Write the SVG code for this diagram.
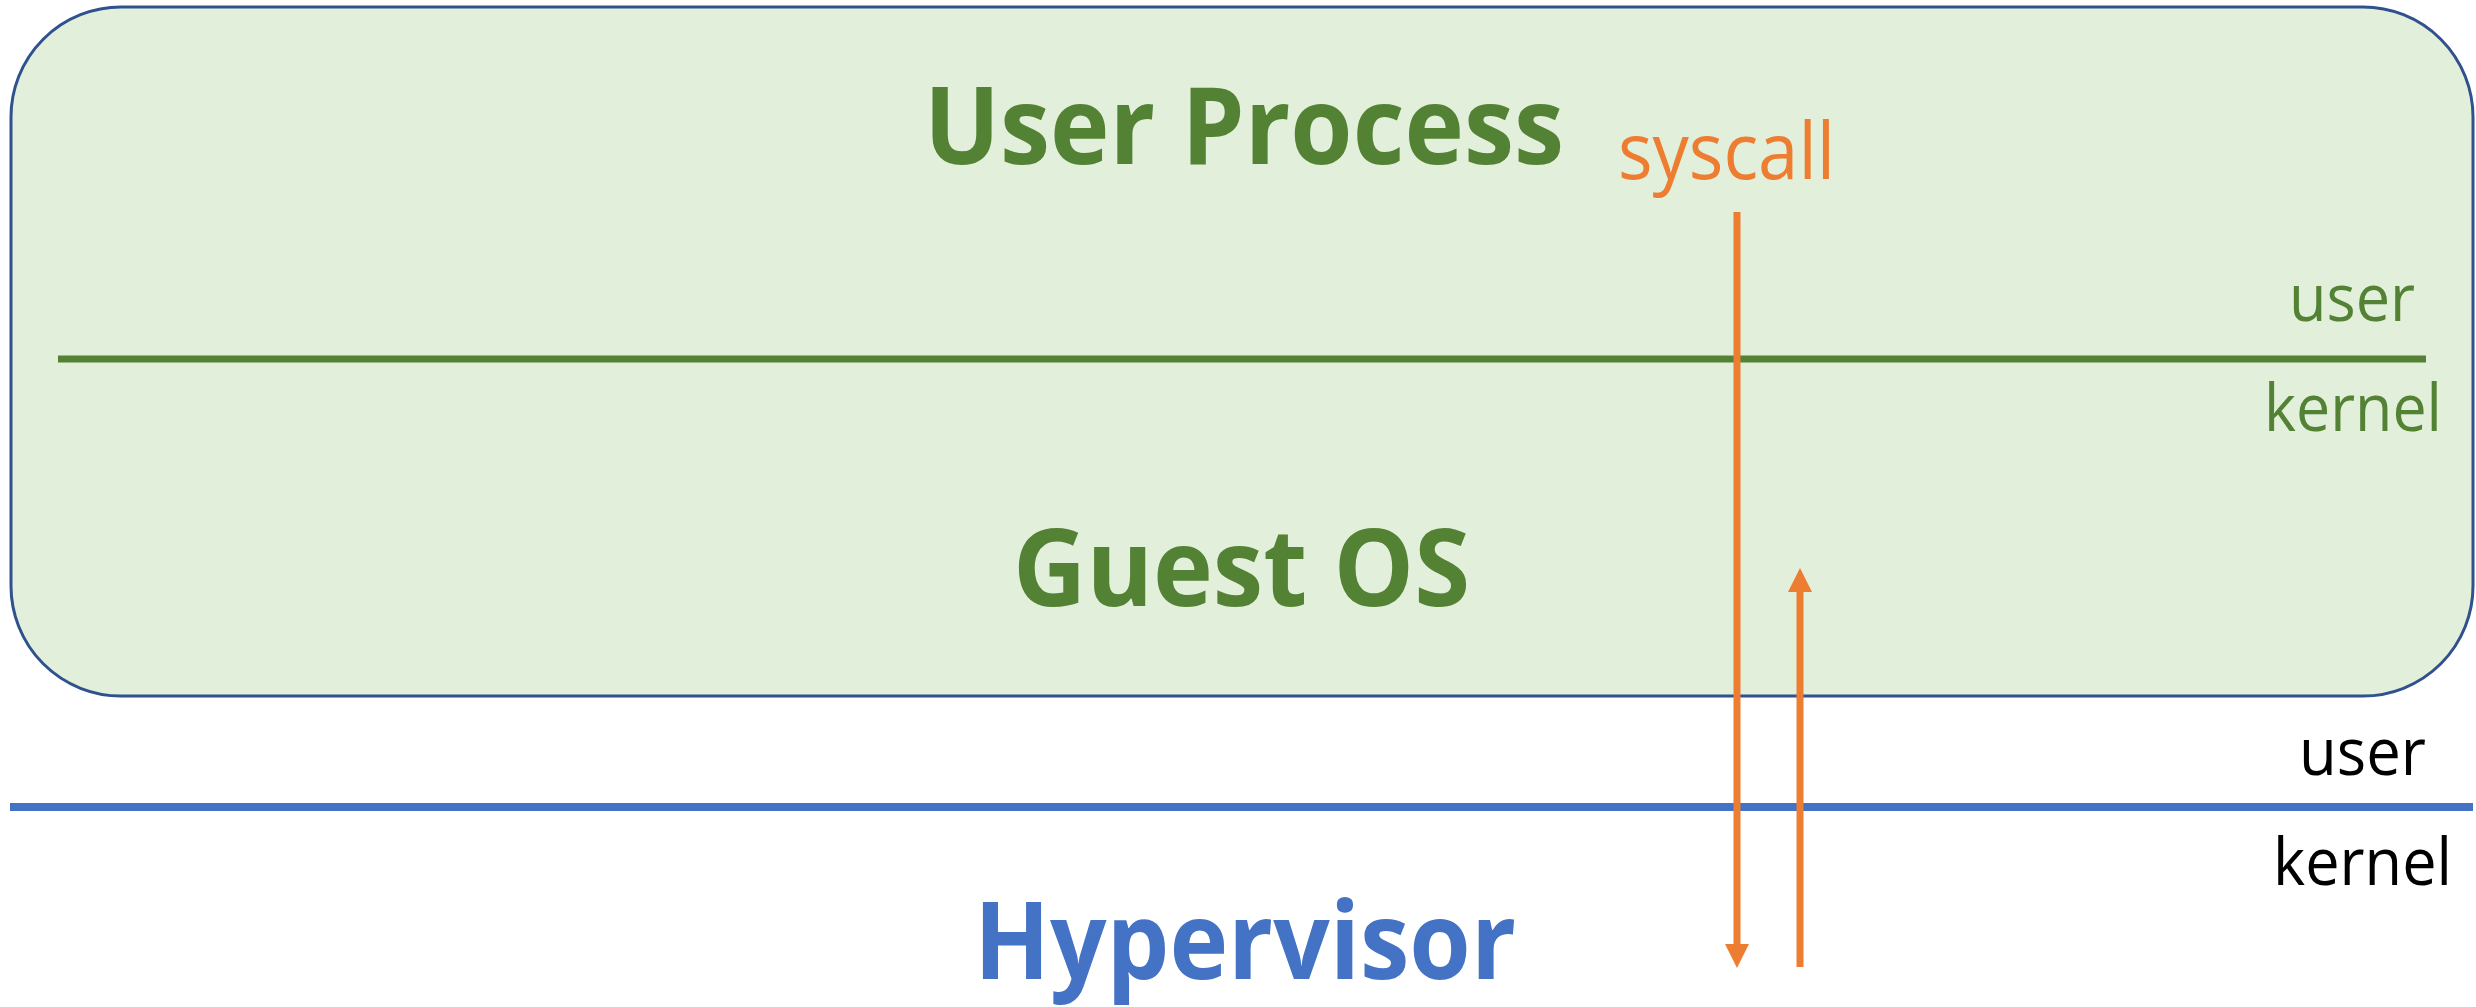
<svg xmlns="http://www.w3.org/2000/svg" width="2476" height="1007" viewBox="0 0 2476 1007">
<style>
.title{font-family:"Open Sans","Liberation Sans",sans-serif;font-weight:700;font-size:107px}
.lbl{font-family:"Open Sans","Liberation Sans",sans-serif;font-weight:400}
.arrow{stroke:#ED7D31;stroke-width:7;fill:none}
</style>
<defs>
<marker id="ah" viewBox="0 0 10 10" refX="0" refY="5" markerUnits="userSpaceOnUse" markerWidth="24" markerHeight="25" orient="auto">
<path d="M0,0 L10,5 L0,10 z" fill="#ED7D31"/>
</marker>
</defs>
<rect width="2476" height="1007" fill="#ffffff"/>
<g id="guest-vm">
<rect x="11" y="7" width="2462" height="689" rx="110" ry="110" fill="#E2EFDA" stroke="#2F528F" stroke-width="3"/>
<text class="title" x="924" y="164" fill="#548235" textLength="640" lengthAdjust="spacingAndGlyphs">User Process</text>
<text class="title" x="1013" y="606" fill="#548235" textLength="457" lengthAdjust="spacingAndGlyphs">Guest OS</text>
<line x1="58" y1="359" x2="2426" y2="359" stroke="#548235" stroke-width="7"/>
<text class="lbl" x="2415" y="321" font-size="66" fill="#548235" text-anchor="end" textLength="126" lengthAdjust="spacingAndGlyphs">user</text>
<text class="lbl" x="2442" y="431" font-size="66" fill="#548235" text-anchor="end" textLength="178" lengthAdjust="spacingAndGlyphs">kernel</text>
</g>
<g id="host">
<line x1="10" y1="807" x2="2473" y2="807" stroke="#4472C4" stroke-width="8"/>
<text class="lbl" x="2426" y="775" font-size="66" fill="#000000" text-anchor="end" textLength="127" lengthAdjust="spacingAndGlyphs">user</text>
<text class="lbl" x="2452" y="885" font-size="66" fill="#000000" text-anchor="end" textLength="179" lengthAdjust="spacingAndGlyphs">kernel</text>
<text class="title" x="974" y="979" font-size="104" fill="#4472C4" textLength="542" lengthAdjust="spacingAndGlyphs">Hypervisor</text>
</g>
<g id="connectors">
<line class="arrow" x1="1737" y1="212" x2="1737" y2="944" marker-end="url(#ah)"/>
<line class="arrow" x1="1800" y1="967" x2="1800" y2="592" marker-end="url(#ah)"/>
<text class="lbl" x="1618" y="179" font-size="78" fill="#ED7D31" textLength="217" lengthAdjust="spacingAndGlyphs">syscall</text>
</g>
</svg>
